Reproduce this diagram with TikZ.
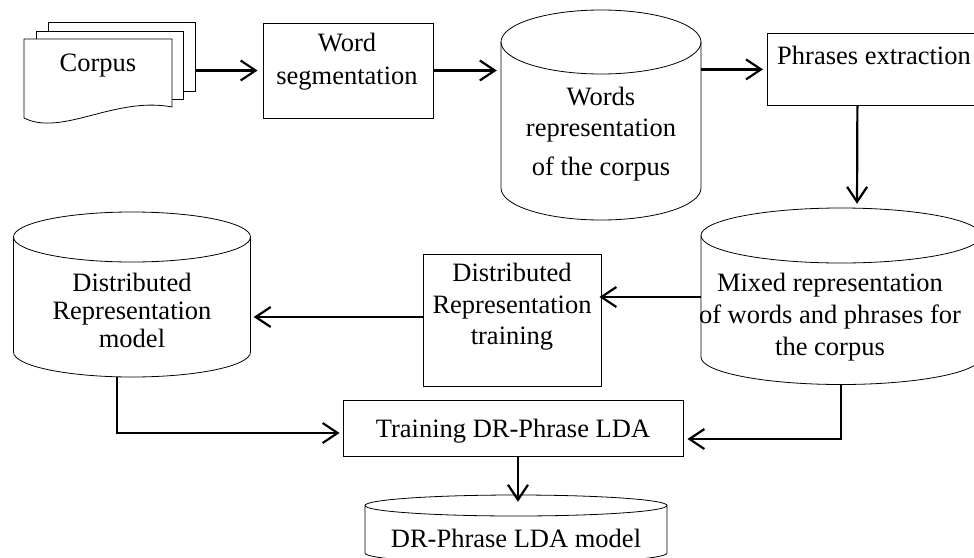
\documentclass[tikz,border=0pt]{standalone}
\usepackage{fontspec}
\setmainfont{Liberation Serif}
\usetikzlibrary{arrows.meta,calc}
\tikzset{
  shapeline/.style={draw=black, line width=0.8pt},
  box/.style={shapeline, fill=white, rectangle, inner sep=0pt},
  ghost/.style={rectangle, inner sep=0pt},
  lbl/.style={font=\fontsize{26.5}{31}\selectfont, align=center, inner sep=0pt},
  conn/.style={line width=2.2pt, -{Straight Barb[length=15pt, width=20pt, line width=2.2pt]}},
}
\newcommand{\mycyl}[5]{% cx, top Y, bottom Y, rx, ry
  \fill[white] ({#1-#4},#2) -- ({#1-#4},#3) arc[start angle=180,end angle=360,x radius=#4pt,y radius=#5pt] -- ({#1+#4},#2) arc[start angle=0,end angle=180,x radius=#4pt,y radius=#5pt] -- cycle;
  \draw[shapeline] (#1,#2) ellipse [x radius=#4pt, y radius=#5pt];
  \draw[shapeline] ({#1-#4},#2) -- ({#1-#4},#3) arc[start angle=180,end angle=360,x radius=#4pt,y radius=#5pt] -- ({#1+#4},#2);
}
\begin{document}
\begin{tikzpicture}[x=1pt,y=1pt]
\useasboundingbox (0,0) rectangle (974,-557);
\clip (0,0) rectangle (974,-557);
\fill[white] (0,0) rectangle (974,-557);

% Corpus (stacked documents)
\draw[shapeline, fill=white] (48,-22) rectangle (195,-91);
\draw[shapeline, fill=white] (36,-31) rectangle (183,-99);
\draw[shapeline, fill=white] (24,-39) -- (172,-39) -- (172,-107)
   .. controls (115,-96) and (62,-137) .. (24,-118) -- cycle;
\node[ghost, minimum width=171pt, minimum height=103pt] (corpus) at (109.5,-73.5) {};
\node[lbl] (corpustxt) at (98,-66) {Corpus};

% Word segmentation
\node[box, minimum width=170pt, minimum height=95pt] (wseg) at (348,-70.5) {};
\node[lbl] (wsegtxt) at (347,-62) {Word\\[2pt]segmentation};

% Words representation cylinder
\mycyl{601}{-42}{-188}{100}{32}
\node[ghost, minimum width=200pt, minimum height=210pt] (words) at (601,-115) {};
\node[lbl, font=\fontsize{26.5}{35}\selectfont] (wordstxt) at (601,-134.5) {Words\\[-4pt]representation\\[4pt]of the corpus};

% Phrases extraction
\node[box, minimum width=240pt, minimum height=72pt, anchor=north west] (phr) at (767,-33) {};
\node[lbl, anchor=west] (phrtxt) at (777,-55) {Phrases extraction};

% Mixed representation cylinder
\mycyl{841}{-235.5}{-357}{140}{27.5}
\node[ghost, minimum width=280pt, minimum height=177pt] (mixed) at (841,-296.5) {};
\node[lbl, font=\fontsize{26.5}{32}\selectfont] (mixedtxt) at (830,-317) {Mixed representation\\of words and phrases for\\the corpus};

% Distributed Representation training
\node[box, minimum width=178pt, minimum height=132pt] (drt) at (512,-320) {};
\node[lbl, font=\fontsize{26.5}{31.5}\selectfont] (drttxt) at (512,-307) {Distributed\\Representation\\training};

% Distributed Representation model cylinder
\mycyl{132}{-237}{-352}{118.5}{25}
\node[ghost, minimum width=237pt, minimum height=165pt] (drm) at (132,-294.5) {};
\node[lbl, font=\fontsize{26.5}{28}\selectfont] (drmtxt) at (132,-310) {Distributed\\Representation\\model};

% Training DR-Phrase LDA
\node[box, minimum width=340pt, minimum height=56pt] (train) at (513,-428) {};
\node[lbl] (traintxt) at (513,-431) {Training DR-Phrase LDA};

% DR-Phrase LDA model cylinder
\mycyl{516}{-505.5}{-553}{151}{10.5}
\node[ghost, minimum width=302pt, minimum height=69pt] (lda) at (516,-529.5) {};
\node[lbl] (ldatxt) at (516,-538) {DR-Phrase LDA model};

% Connectors
\draw[conn, shorten >=5pt] (corpus.east |- wseg.west) -- (wseg.west);
\draw[conn, shorten >=4pt] (wseg.east) -- (words.west |- wseg.east);
\draw[conn, shorten >=4pt] (words.east |- phr.west) -- (phr.west);
\draw[conn, shorten >=4pt] ([xshift=-30pt]phr.south) -- ([xshift=16pt]mixed.north);
\draw[conn, shorten >=-2pt] ([yshift=23pt]drt.east -| mixed.west) -- ([yshift=23pt]drt.east);
\draw[conn, shorten >=3pt] ([yshift=3pt]drt.west) -- ([yshift=3pt]drt.west -| drm.east);
\draw[conn, shorten >=3pt] ([xshift=-15pt]drm.south) |- ([yshift=-5pt]train.west);
\draw[conn, shorten >=4pt] (mixed.south) |- ([yshift=-11pt]train.east);
\draw[conn] ([xshift=5pt]train.south) -- ([xshift=2pt,yshift=-7pt]lda.north);
\end{tikzpicture}
\end{document}
